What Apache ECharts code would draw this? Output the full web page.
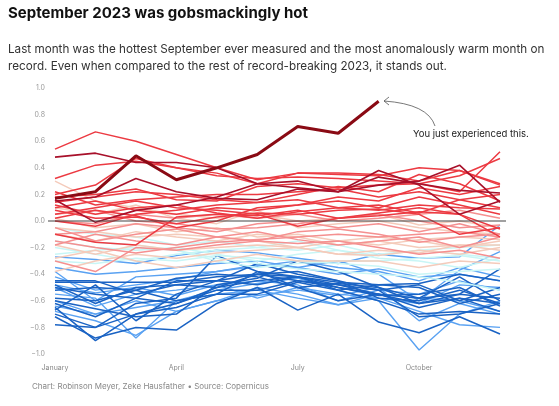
<!DOCTYPE html>
<html>
<head>
<meta charset="utf-8">
<script src="https://cdn.jsdelivr.net/npm/echarts@6/dist/echarts.min.js"></script>
<style>html,body{margin:0;padding:0;background:#fff}#c{width:559px;height:406px}</style>
</head>
<body>
<div id="c"></div>
<script>
const months = ['January','February','March','April','May','June','July','August','September','October','November','December'];
const yTicks = [-1.0, -0.8, -0.6, -0.4, -0.2, 0.0, 0.2, 0.4, 0.6, 0.8, 1.0];

const darkBlue = [
  [-0.65,-0.90,-0.70,-0.62,-0.50,-0.40,-0.45,-0.50,-0.55,-0.62,-0.58,-0.62],
  [-0.78,-0.80,-0.62,-0.58,-0.26,-0.38,-0.42,-0.48,-0.52,-0.72,-0.70,-0.62],
  [-0.60,-0.66,-0.72,-0.70,-0.48,-0.43,-0.30,-0.38,-0.50,-0.62,-0.55,-0.36],
  [-0.67,-0.48,-0.75,-0.55,-0.45,-0.32,-0.40,-0.45,-0.58,-0.60,-0.52,-0.62],
  [-0.72,-0.88,-0.80,-0.82,-0.62,-0.50,-0.67,-0.55,-0.76,-0.84,-0.72,-0.85],
  [-0.52,-0.50,-0.52,-0.43,-0.40,-0.42,-0.50,-0.47,-0.50,-0.58,-0.42,-0.60],
  [-0.48,-0.62,-0.50,-0.48,-0.45,-0.40,-0.38,-0.45,-0.52,-0.48,-0.60,-0.50],
  [-0.62,-0.72,-0.58,-0.62,-0.52,-0.52,-0.45,-0.48,-0.55,-0.65,-0.58,-0.68],
  [-0.45,-0.45,-0.55,-0.48,-0.50,-0.45,-0.42,-0.52,-0.48,-0.50,-0.62,-0.55],
  [-0.58,-0.60,-0.52,-0.60,-0.55,-0.38,-0.50,-0.60,-0.55,-0.58,-0.55,-0.58],
  [-0.50,-0.55,-0.58,-0.45,-0.45,-0.48,-0.42,-0.50,-0.56,-0.55,-0.50,-0.64],
  [-0.70,-0.80,-0.70,-0.65,-0.55,-0.55,-0.46,-0.52,-0.60,-0.70,-0.68,-0.70],
  [-0.46,-0.46,-0.46,-0.46,-0.42,-0.40,-0.42,-0.46,-0.48,-0.47,-0.40,-0.45]
];
const lightBlue = [
  [-0.38,-0.60,-0.42,-0.40,-0.38,-0.33,-0.35,-0.30,-0.40,-0.60,-0.37,-0.23],
  [-0.27,-0.29,-0.32,-0.26,-0.22,-0.24,-0.28,-0.32,-0.25,-0.28,-0.27,-0.03],
  [-0.55,-0.58,-0.88,-0.60,-0.52,-0.47,-0.43,-0.52,-0.60,-0.97,-0.70,-0.60],
  [-0.68,-0.75,-0.86,-0.68,-0.60,-0.50,-0.55,-0.63,-0.58,-0.68,-0.78,-0.80],
  [-0.42,-0.52,-0.48,-0.44,-0.38,-0.34,-0.30,-0.35,-0.38,-0.45,-0.35,-0.42],
  [-0.50,-0.64,-0.55,-0.52,-0.48,-0.58,-0.50,-0.55,-0.58,-0.62,-0.48,-0.50],
  [-0.60,-0.70,-0.65,-0.60,-0.55,-0.52,-0.58,-0.63,-0.55,-0.58,-0.60,-0.68],
  [-0.35,-0.40,-0.38,-0.35,-0.32,-0.30,-0.35,-0.40,-0.36,-0.42,-0.40,-0.45],
  [-0.64,-0.70,-0.60,-0.68,-0.60,-0.56,-0.52,-0.56,-0.50,-0.75,-0.62,-0.70],
  [-0.48,-0.54,-0.50,-0.56,-0.48,-0.45,-0.48,-0.60,-0.52,-0.55,-0.45,-0.52]
];
const cyan = [
  [-0.05,-0.10,-0.12,-0.18,-0.15,-0.20,-0.22,-0.18,-0.25,-0.22,-0.25,-0.28],
  [-0.15,-0.20,-0.22,-0.20,-0.25,-0.30,-0.25,-0.22,-0.28,-0.30,-0.35,-0.28],
  [-0.30,-0.32,-0.28,-0.30,-0.26,-0.28,-0.30,-0.32,-0.34,-0.40,-0.38,-0.36],
  [-0.20,-0.25,-0.30,-0.25,-0.22,-0.20,-0.15,-0.22,-0.26,-0.22,-0.20,-0.18],
  [-0.10,-0.16,-0.18,-0.22,-0.28,-0.32,-0.36,-0.38,-0.40,-0.42,-0.46,-0.52],
  [-0.25,-0.22,-0.20,-0.22,-0.30,-0.35,-0.32,-0.30,-0.30,-0.28,-0.26,-0.30]
];
const pink = [
  [-0.28,-0.22,-0.30,-0.35,-0.30,-0.25,-0.30,-0.30,-0.30,-0.35,-0.30,-0.32],
  [0.10,0.05,0.12,0.02,-0.02,0.08,-0.05,-0.02,0.00,-0.05,-0.08,-0.10],
  [-0.10,-0.15,-0.08,-0.12,-0.15,-0.10,-0.12,-0.18,-0.15,-0.20,-0.18,-0.22],
  [-0.18,-0.25,-0.18,-0.22,-0.20,-0.18,-0.20,-0.25,-0.22,-0.24,-0.18,-0.18],
  [0.02,-0.05,-0.02,-0.08,-0.05,-0.12,-0.10,-0.15,-0.12,-0.15,-0.20,-0.15],
  [-0.38,-0.30,-0.25,-0.28,-0.24,-0.22,-0.20,-0.25,-0.26,-0.22,-0.25,-0.20],
  [0.30,0.15,0.10,0.05,0.02,0.05,0.00,0.02,0.05,-0.03,0.00,-0.05],
  [-0.05,-0.08,-0.12,-0.10,-0.12,-0.15,-0.20,-0.15,-0.18,-0.14,-0.12,-0.14]
];
const salmon = [
  [-0.10,-0.08,-0.02,-0.05,-0.08,-0.02,0.00,-0.05,-0.02,-0.08,-0.02,-0.10],
  [-0.05,-0.15,-0.10,-0.06,-0.12,-0.15,-0.08,-0.06,-0.10,-0.16,-0.12,-0.10],
  [0.00,-0.02,0.05,0.02,0.05,0.02,0.05,0.00,0.02,0.05,0.08,0.02],
  [-0.18,-0.10,-0.15,-0.18,-0.12,-0.08,-0.14,-0.18,-0.15,-0.12,-0.20,-0.12],
  [0.05,0.08,0.00,-0.02,-0.06,-0.05,-0.02,0.02,0.05,0.00,-0.05,-0.03],
  [-0.30,-0.38,-0.20,-0.22,-0.18,-0.15,-0.17,-0.15,-0.20,-0.25,-0.22,-0.28],
  [-0.15,-0.20,-0.24,-0.20,-0.16,-0.14,-0.12,-0.10,-0.12,-0.10,-0.08,-0.12]
];
const red = [
  [0.54,0.67,0.60,0.50,0.40,0.31,0.36,0.36,0.35,0.30,0.38,0.28],
  [0.32,0.42,0.45,0.40,0.36,0.28,0.36,0.35,0.34,0.40,0.38,0.27],
  [0.20,0.27,0.47,0.40,0.34,0.32,0.33,0.32,0.30,0.28,0.22,0.52],
  [0.18,0.20,0.24,0.16,0.15,0.26,0.28,0.25,0.27,0.28,0.34,0.47],
  [0.14,0.18,0.22,0.20,0.16,0.14,0.20,0.26,0.22,0.35,0.28,0.15],
  [0.10,0.15,0.08,0.05,0.10,0.08,0.12,0.18,0.15,0.25,0.20,0.26],
  [0.12,0.05,0.10,0.12,0.06,0.02,0.07,0.10,0.08,0.12,0.10,0.09],
  [0.00,-0.04,0.05,0.08,0.12,0.14,0.16,0.10,0.12,0.06,0.16,0.10],
  [0.05,0.10,0.15,0.10,0.08,0.05,-0.04,0.02,0.04,0.07,0.05,-0.06],
  [-0.10,-0.16,-0.18,0.03,0.05,0.04,0.08,0.02,0.06,0.10,0.05,-0.12],
  [0.08,0.02,0.03,-0.02,0.03,0.06,0.05,0.08,0.09,0.05,-0.10,-0.05],
  [0.22,0.12,0.16,0.18,0.20,0.20,0.22,0.24,0.18,0.22,0.16,0.20],
  [0.02,0.08,0.04,-0.05,0.00,0.10,0.12,0.15,0.10,0.18,0.12,0.05]
];
const darkRed = [
  [0.48,0.51,0.44,0.44,0.40,0.28,0.25,0.22,0.33,0.28,0.23,0.21],
  [0.16,-0.01,0.08,0.12,0.18,0.28,0.30,0.22,0.38,0.27,0.05,0.15],
  [0.15,0.18,0.32,0.22,0.17,0.16,0.24,0.22,0.27,0.30,0.42,0.14]
];
const y2023 = [0.17,0.22,0.49,0.31,0.40,0.50,0.71,0.66,0.90];

const groups = [
  [lightBlue, '#5aa2f2', 1.4],
  [darkBlue, '#1a63c4', 1.5],
  [cyan, '#c9f6f6', 1.5],
  [pink, '#f4cbbb', 1.5],
  [salmon, '#f59090', 1.5],
  [red, '#ec3a42', 1.5],
  [darkRed, '#a8102a', 1.6]
];

const series = [];
groups.forEach(([rows, color, w]) => {
  rows.forEach(d => series.push({
    type: 'line', data: d, symbol: 'none', silent: true,
    lineStyle: { color, width: w }
  }));
});
series.push({
  type: 'line', data: y2023, symbol: 'none', silent: true, z: 5,
  lineStyle: { color: '#8a0a14', width: 3 }
});

const chart = echarts.init(document.getElementById('c'));
chart.setOption({
  animation: false,
  grid: { left: 55, right: 59, top: 88, bottom: 52 },
  xAxis: {
    type: 'category', data: months, boundaryGap: false,
    axisLine: { show: false },
    axisTick: { show: false },
    axisLabel: { interval: 2, color: '#888', fontSize: 7, fontFamily: 'Inter', margin: 10,
      formatter: (v, i) => i < 10 ? v : '' },
    splitLine: { show: false }
  },
  yAxis: {
    type: 'value', min: -1, max: 1, interval: 0.2,
    axisLine: { show: false }, axisTick: { show: false }, splitLine: { show: false },
    axisLabel: { color: '#999', fontSize: 7, fontFamily: 'Inter', margin: 10,
      formatter: v => yTicks.includes(Math.round(v * 10) / 10) ? v.toFixed(1).replace('-', '\u2212') : '' }
  },
  series,
  graphic: [
    { type: 'text', left: 8, top: 6, style: { text: 'September 2023 was gobsmackingly hot', fontSize: 15, fontWeight: 'bold', fontFamily: 'Inter', fill: '#111' } },
    { type: 'text', left: 8, top: 41, style: { text: 'Last month was the hottest September ever measured and the most anomalously warm month on\nrecord. Even when compared to the rest of record-breaking 2023, it stands out.', fontSize: 11.7, lineHeight: 17, fontFamily: 'Inter', fill: '#333' } },
    { type: 'text', left: 32, top: 383, style: { text: 'Chart: Robinson Meyer, Zeke Hausfather \u2022 Source: Copernicus', fontSize: 8, fontFamily: 'Inter', fill: '#888' } },
    { type: 'text', left: 413, top: 129, style: { text: 'You just experienced this.', fontSize: 9.5, fontFamily: 'Inter', fill: '#222' } },
    { type: 'bezierCurve', shape: { x1: 435, y1: 126, x2: 384, y2: 101, cpx1: 428, cpy1: 104 }, style: { stroke: '#555', lineWidth: 0.8, fill: null } },
    { type: 'polyline', shape: { points: [[389, 97], [384, 101], [389, 105]] }, style: { stroke: '#555', lineWidth: 0.8, fill: null } }
  ]
});

// zero baseline drawn on top of every line, placed through the y scale
const zeroY = chart.convertToPixel({ yAxisIndex: 0 }, 0);
chart.setOption({
  graphic: [{
    type: 'line', id: 'zero', z: 100,
    shape: { x1: 48, y1: zeroY, x2: 506, y2: zeroY },
    style: { stroke: '#444', lineWidth: 1.2 }
  }]
});
</script>
</body>
</html>
